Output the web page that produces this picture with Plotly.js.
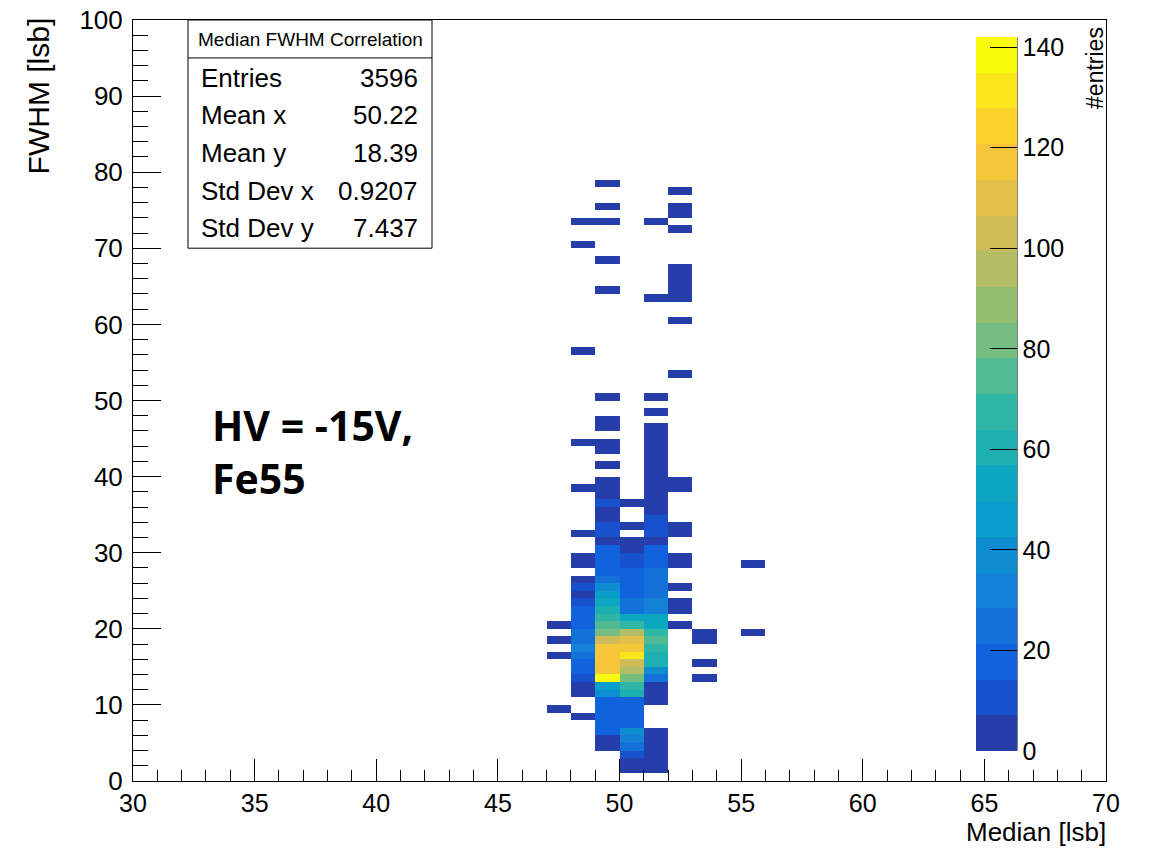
<!DOCTYPE html>
<html>
<head>
<meta charset="utf-8">
<script src="https://cdn.plot.ly/plotly-3.0.1.min.js"></script>
<style>
html,body{margin:0;padding:0;background:#fff;}
#chart{width:1150px;height:849px;}
</style>
</head>
<body>
<div id="chart"></div>
<script>
// ---------------- DATA ----------------
// Bins: Median [lsb] 30..70 (width 1), FWHM [lsb] 0..100 (width 1)
const xMin = 30, xMax = 70, yMin = 0, yMax = 100;

// Each column = lower edge of the Median bin; rows = lower edge of FWHM bin; counts = entries
const rows47 = [9, 16, 18, 20];
const counts47 = [1, 1, 1, 1];

const rows48 = [8, 11, 12, 13, 14, 15, 16, 17, 18, 19, 20, 21, 22, 23, 24, 25, 26, 28, 29, 32, 38, 44, 56, 70, 73];
const counts48 = [2, 4, 6, 10, 16, 18, 25, 30, 28, 25, 19, 19, 15, 12, 5, 13, 4, 3, 3, 2, 2, 1, 1, 1, 1];

const rows49 = [4, 5, 6, 7, 8, 9, 10, 11, 12, 13, 14, 15, 16, 17, 18, 19, 20, 21, 22, 23, 24, 25,
                26, 27, 28, 29, 30, 31, 32, 33, 34, 35, 36, 37, 38, 39, 41, 43, 44, 46, 47, 50, 64, 68, 73, 75, 78];
const counts49 = [5, 6, 15, 17, 17, 17, 16, 36, 44, 142, 114, 118, 120, 118, 103, 85, 75, 68, 60, 52, 43, 38,
                  26, 21, 18, 18, 16, 5, 13, 13, 4, 4, 11, 3, 3, 2, 1, 1, 2, 1, 1, 1, 1, 1, 1, 1, 1];

const rows50 = [1, 2, 3, 4, 5, 6, 7, 8, 9, 10, 11, 12, 13, 14, 15, 16, 17, 18, 19, 20, 21,
                22, 23, 24, 25, 26, 27, 28, 29, 30, 31, 33, 36];
const counts50 = [4, 5, 11, 24, 34, 36, 17, 17, 18, 20, 60, 64, 82, 93, 104, 131, 117, 110, 95, 67, 50,
                  25, 22, 18, 18, 15, 15, 10, 10, 5, 4, 2, 2];

const rows51 = [1, 2, 3, 4, 5, 6, 10, 11, 12, 13, 14, 15, 16, 17, 18, 19, 20, 21, 22, 23, 24, 25, 26, 27, 28, 29, 30,
                31, 32, 33, 34, 35, 36, 37, 38, 39, 40, 41, 42, 43, 44, 45, 46, 48, 50, 63, 73];
const counts51 = [4, 4, 5, 4, 4, 3, 4, 5, 6, 22, 42, 58, 63, 70, 74, 68, 50, 56, 32, 29, 26, 26, 25, 22, 19, 19, 16,
                  5, 14, 13, 12, 3, 3, 2, 3, 2, 2, 2, 2, 1, 2, 1, 2, 1, 1, 1, 1];

const rows52 = [20, 22, 23, 25, 28, 29, 32, 33, 38, 39, 53, 60, 63, 64, 65, 66, 67, 72, 74, 75, 77];
const counts52 = [2, 2, 2, 1, 2, 2, 2, 1, 1, 1, 1, 1, 1, 1, 1, 1, 1, 1, 1, 1, 1];

const rows53 = [13, 15, 18, 19];
const counts53 = [1, 1, 1, 1];

const rows55 = [19, 28];
const counts55 = [1, 1];

// Stats box text
const statsTitle = 'Median FWHM Correlation';
const statLabels = ['Entries', 'Mean x', 'Mean y', 'Std Dev x', 'Std Dev y'];
const statValues = ['3596', '50.22', '18.39', '0.9207', '7.437'];

const xTickVals = [30, 35, 40, 45, 50, 55, 60, 65, 70];
const yTickVals = [0, 10, 20, 30, 40, 50, 60, 70, 80, 90, 100];
const zTickVals = [0, 20, 40, 60, 80, 100, 120, 140];

// ---------------- BUILD HISTOGRAM MATRIX ----------------
const nx = xMax - xMin, ny = yMax - yMin;
const xEdges = []; for (let i = 0; i <= nx; i++) xEdges.push(xMin + i);
const yEdges = []; for (let j = 0; j <= ny; j++) yEdges.push(yMin + j);
const z = [];
for (let j = 0; j < ny; j++) { const r = []; for (let i = 0; i < nx; i++) r.push(null); z.push(r); }
function fill(col, rows, counts) { rows.forEach((r, k) => { z[r - yMin][col - xMin] = counts[k]; }); }
fill(47, rows47, counts47); fill(48, rows48, counts48); fill(49, rows49, counts49);
fill(50, rows50, counts50); fill(51, rows51, counts51); fill(52, rows52, counts52);
fill(53, rows53, counts53); fill(55, rows55, counts55);
let zMax = 0; z.forEach(r => r.forEach(v => { if (v !== null && v > zMax) zMax = v; }));

// ROOT kBird palette, 20 contour levels
const birdStops = [0, 0.125, 0.25, 0.375, 0.5, 0.625, 0.75, 0.875, 1];
const birdR = [0.2082, 0.0592, 0.0780, 0.0232, 0.1802, 0.5301, 0.8186, 0.9956, 0.9764];
const birdG = [0.1664, 0.3599, 0.5041, 0.6419, 0.7178, 0.7492, 0.7328, 0.7862, 0.9832];
const birdB = [0.5293, 0.8684, 0.8385, 0.7914, 0.6425, 0.4662, 0.3499, 0.1968, 0.0539];
function bird(f) {
  let k = 0; while (k < birdStops.length - 2 && f > birdStops[k + 1]) k++;
  const t = (f - birdStops[k]) / (birdStops[k + 1] - birdStops[k]);
  const c = a => Math.round(255 * (a[k] + (a[k + 1] - a[k]) * t));
  return 'rgb(' + c(birdR) + ',' + c(birdG) + ',' + c(birdB) + ')';
}
const nLevels = 20;
const colorscale = [];
for (let i = 0; i < nLevels; i++) {
  const col = bird((i + 0.99) / nLevels);
  colorscale.push([i / nLevels, col]);
  colorscale.push([(i + 1) / nLevels, col]);
}

// ---------------- GEOMETRY HELPERS (pixel -> paper) ----------------
const P = {L: 133, R: 1106, T: 19.5, B: 781.5};
const PW = P.R - P.L, PH = P.B - P.T;
const px = x => (x - P.L) / PW;
const py = y => (P.B - y) / PH;

const FONT = 'Liberation Sans, Arial, Helvetica, sans-serif';

const trace = {
  type: 'heatmap',
  x: xEdges, y: yEdges, z: z,
  zmin: 0, zmax: zMax,
  colorscale: colorscale,
  hoverinfo: 'skip',
  colorbar: {
    x: px(976), xanchor: 'left', xref: 'paper', xpad: 0,
    y: py(394), yanchor: 'middle', ypad: 0,
    len: 714, lenmode: 'pixels',
    thickness: 41, thicknessmode: 'pixels',
    outlinewidth: 0,
    ticks: 'inside', ticklen: 27, tickwidth: 1, tickcolor: '#000',
    tickmode: 'array', tickvals: zTickVals,
    tickfont: {family: FONT, size: 25, color: '#000'}
  }
};

const annotations = [];
function ann(text, x, y, o) {
  annotations.push(Object.assign({text: text, x: px(x), y: py(y), xref: 'paper', yref: 'paper',
    showarrow: false, font: {family: FONT, size: 26, color: '#000'}}, o || {}));
}
ann(statsTitle, 310, 39.5, {xanchor: 'center', yanchor: 'middle', font: {family: FONT, size: 19, color: '#000'}});
statLabels.forEach((s, i) => {
  ann(s, 199, 77.5 + i * 37.6, {xanchor: 'left', yanchor: 'middle'});
  ann(statValues[i], 420, 77.5 + i * 37.6, {xanchor: 'right', yanchor: 'middle'});
});
ann('FWHM [lsb]', 38, 96, {xanchor: 'center', yanchor: 'middle', textangle: -90, font: {family: FONT, size: 30, color: '#000'}});
ann('Median [lsb]', 1107, 849, {xanchor: 'right', yanchor: 'bottom', borderpad: 0, font: {family: FONT, size: 26, color: '#000'}});
ann('#entries', 1095, 67.5, {xanchor: 'center', yanchor: 'middle', textangle: -90, font: {family: FONT, size: 23, color: '#000'}});
ann('<b>HV = -15V,</b><br><b>Fe55</b>', 210, 452, {xanchor: 'left', yanchor: 'middle', align: 'left',
    font: {family: 'Open Sans, sans-serif', size: 41, color: '#000'}});

const shapes = [
  {type: 'rect', xref: 'paper', yref: 'paper', x0: px(188), x1: px(432), y0: py(248), y1: py(P.T),
   fillcolor: '#fff', line: {color: '#000', width: 1}, layer: 'above'},
  {type: 'line', xref: 'paper', yref: 'paper', x0: px(188), x1: px(432), y0: py(57.5), y1: py(57.5),
   line: {color: '#000', width: 1}},
  {type: 'line', xref: 'paper', yref: 'paper', x0: px(1017), x1: px(1017), y0: py(37), y1: py(751),
   line: {color: '#000', width: 1}}
];

const axisCommon = {
  ticks: 'inside', tickwidth: 1, tickcolor: '#000',
  showline: true, linecolor: '#000', linewidth: 1, mirror: true,
  showgrid: false, zeroline: false, fixedrange: true,
  tickfont: {family: FONT, size: 26, color: '#000'}
};

const layout = {
  width: 1150, height: 849,
  margin: {l: P.L, r: 1150 - P.R, t: P.T, b: 849 - P.B, pad: 0},
  paper_bgcolor: '#fff', plot_bgcolor: '#fff',
  showlegend: false,
  xaxis: Object.assign({}, axisCommon, {
    range: [xMin, xMax], tickmode: 'array', tickvals: xTickVals, ticklen: 22,
    tickfont: {family: FONT, size: 25, color: '#000'},
    minor: {dtick: 1, tick0: 30, ticks: 'inside', ticklen: 11, tickcolor: '#000', tickwidth: 1, showgrid: false},
    ticklabelstandoff: 0
  }),
  yaxis: Object.assign({}, axisCommon, {
    range: [yMin, yMax], tickmode: 'array', tickvals: yTickVals, ticklen: 28,
    minor: {dtick: 2, tick0: 0, ticks: 'inside', ticklen: 15, tickcolor: '#000', tickwidth: 1, showgrid: false},
    ticklabelstandoff: 4
  }),
  shapes: shapes,
  annotations: annotations
};

Plotly.newPlot('chart', [trace], layout, {displayModeBar: false, staticPlot: true});
</script>
</body>
</html>
